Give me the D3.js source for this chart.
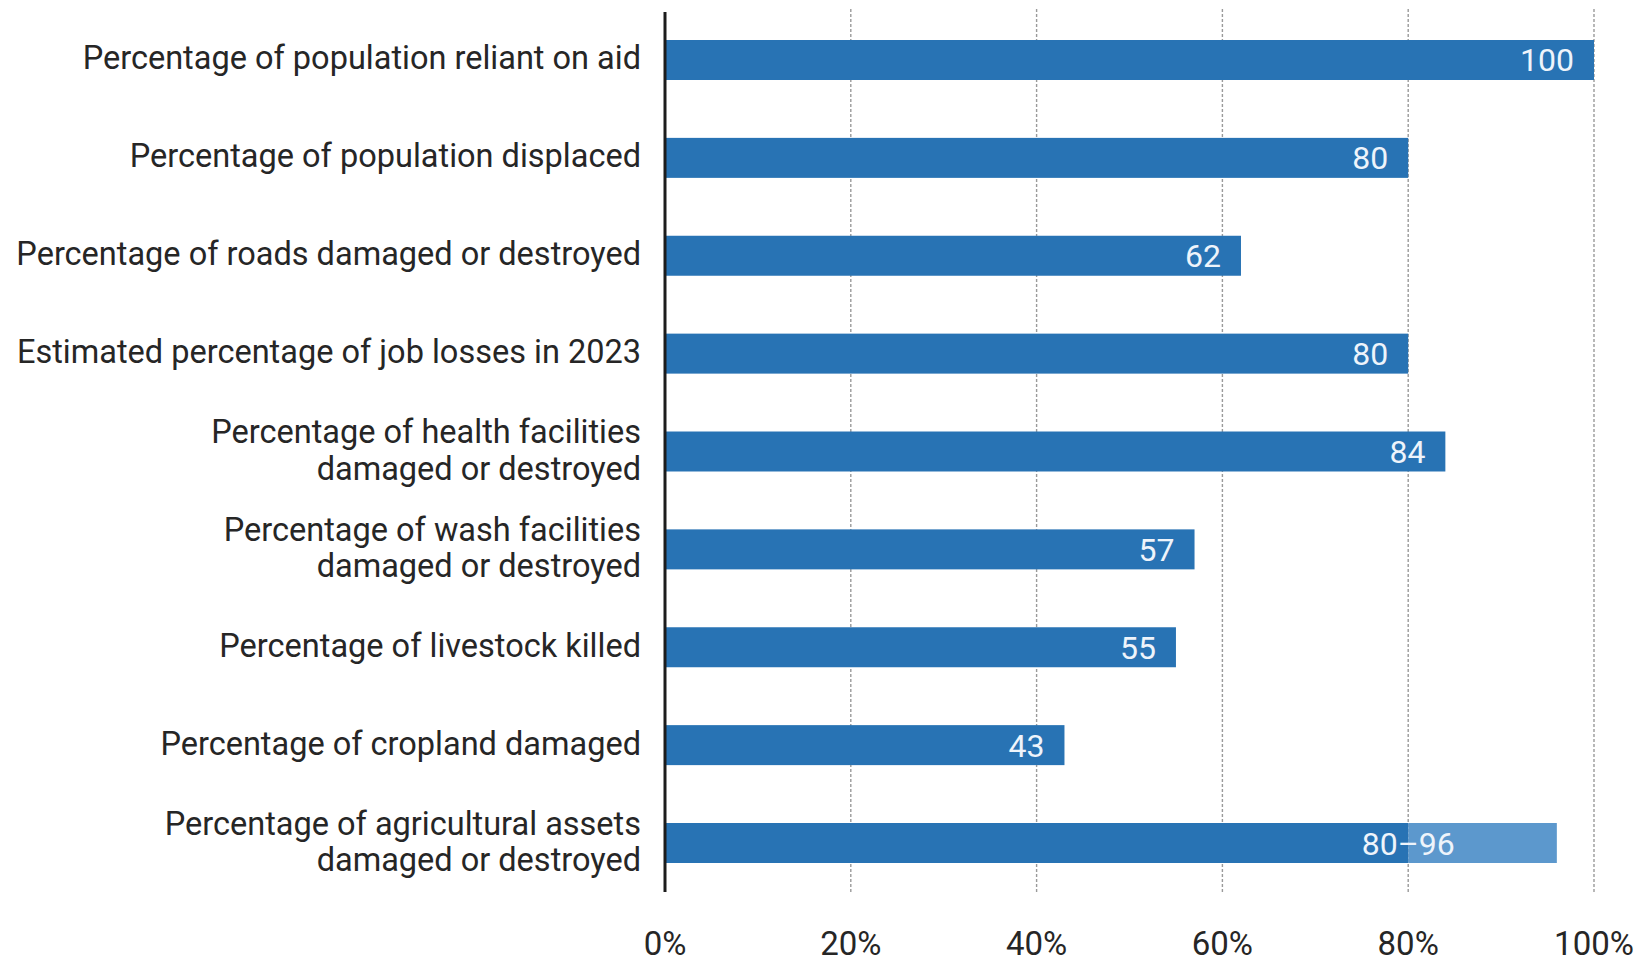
<!DOCTYPE html>
<html>
<head>
<meta charset="utf-8">
<script src="https://cdn.jsdelivr.net/npm/d3@7"></script>
<style>
  html, body { margin: 0; padding: 0; background: #ffffff; }
  svg { display: block; }
  text { font-family: Roboto, "Noto Sans", sans-serif; }
</style>
</head>
<body>
<svg id="chart" width="1639" height="966"></svg>
<script>
// ---- data ----
const categories = [
  "Percentage of population reliant on aid",
  "Percentage of population displaced",
  "Percentage of roads damaged or destroyed",
  "Estimated percentage of job losses in 2023",
  "Percentage of health facilities\ndamaged or destroyed",
  "Percentage of wash facilities\ndamaged or destroyed",
  "Percentage of livestock killed",
  "Percentage of cropland damaged",
  "Percentage of agricultural assets\ndamaged or destroyed"
];
const lowValues  = [100, 80, 62, 80, 84, 57, 55, 43, 80];
const highValues = [null, null, null, null, null, null, null, null, 96];
const valueLabels = ["100", "80", "62", "80", "84", "57", "55", "43", "80\u201396"];
const tickValues = [0, 20, 40, 60, 80, 100];
const tickLabels = ["0%", "20%", "40%", "60%", "80%", "100%"];

// ---- layout ----
const svg = d3.select("#chart");
const x = d3.scaleLinear().domain([0, 100]).range([665, 1594]);
const y = d3.scaleBand().domain(categories).range([40, 863]).paddingInner(0.5914).paddingOuter(0);

const dark = "#2873b4";
const light = "#5c98cd";

// gridlines
svg.append("g").selectAll("line").data(tickValues.filter(d => d > 0)).join("line")
  .attr("x1", d => x(d)).attr("x2", d => x(d))
  .attr("y1", 9).attr("y2", 892)
  .attr("stroke", "#9a9a9a").attr("stroke-width", 1.4)
  .attr("stroke-dasharray", "3,2");

const rows = categories.map((c, i) => ({ c, lo: lowValues[i], hi: highValues[i], lab: valueLabels[i] }));

// main bars
svg.append("g").selectAll("rect").data(rows).join("rect")
  .attr("x", x(0)).attr("y", d => y(d.c))
  .attr("width", d => x(d.lo) - x(0))
  .attr("height", y.bandwidth())
  .attr("fill", dark);

// range extension bars
svg.append("g").selectAll("rect").data(rows.filter(d => d.hi != null)).join("rect")
  .attr("x", d => x(d.lo)).attr("y", d => y(d.c))
  .attr("width", d => x(d.hi) - x(d.lo))
  .attr("height", y.bandwidth())
  .attr("fill", light);

// value labels
svg.append("g").selectAll("text").data(rows).join("text")
  .attr("x", d => d.hi != null ? x(d.lo) : x(d.lo) - 20)
  .attr("y", d => y(d.c) + y.bandwidth() / 2 + 11.5)
  .attr("text-anchor", d => d.hi != null ? "middle" : "end")
  .attr("font-size", 32)
  .attr("fill", "#eef4fb")
  .text(d => d.lab);

// axis line
svg.append("line")
  .attr("x1", x(0)).attr("x2", x(0))
  .attr("y1", 12).attr("y2", 892)
  .attr("stroke", "#1c1c1c").attr("stroke-width", 3);

// category labels
const catG = svg.append("g");
rows.forEach(d => {
  const lines = d.c.split("\n");
  const cy = y(d.c) + y.bandwidth() / 2;
  const t = catG.append("text")
    .attr("text-anchor", "end")
    .attr("font-size", 32.5)
    .attr("fill", "#262626");
  if (lines.length === 1) {
    t.append("tspan").attr("x", 641).attr("y", cy + 9.5).text(lines[0]);
  } else {
    t.append("tspan").attr("x", 641).attr("y", cy - 8.5).text(lines[0]);
    t.append("tspan").attr("x", 641).attr("y", cy + 28).text(lines[1]);
  }
});

// tick labels
svg.append("g").selectAll("text").data(tickValues).join("text")
  .attr("x", d => x(d))
  .attr("y", 955)
  .attr("text-anchor", "middle")
  .attr("font-size", 33)
  .attr("fill", "#262626")
  .text((d, i) => tickLabels[i]);
</script>
</body>
</html>
